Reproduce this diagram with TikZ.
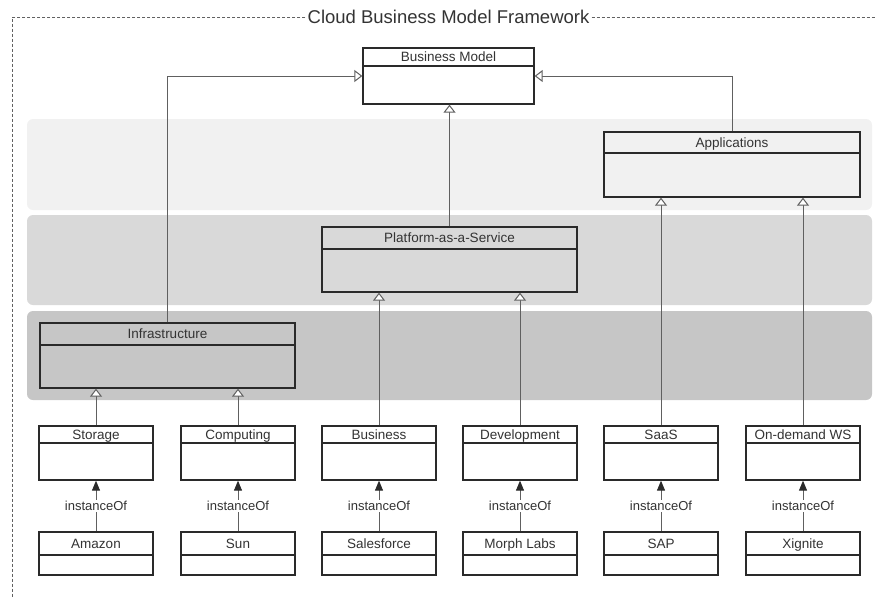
\documentclass[tikz,border=0pt]{standalone}
\usepackage{fontspec}
\setmainfont{Liberation Sans}
\usetikzlibrary{arrows.meta,positioning}
\definecolor{boxline}{HTML}{2A2A2A}
\definecolor{linkgray}{HTML}{606060}
\definecolor{txtgray}{HTML}{333333}
\definecolor{layerapp}{HTML}{F1F1F1}
\definecolor{layerpaas}{HTML}{D9D9D9}
\definecolor{layerinfra}{HTML}{C6C6C6}

\begin{document}
\begin{tikzpicture}[x=1pt, y=-1pt,
  box/.style={draw=boxline, line width=1.3pt, inner sep=0pt, fill=white},
  hdr/.style={draw=boxline, line width=1.3pt, inner sep=0pt, text=txtgray, text height=10pt, text depth=0.7pt, font=\fontsize{13.5}{15}\selectfont},
  gen/.style={draw=linkgray, line width=1pt, -{Triangle[fill=white, length=8pt, width=12pt]}},
  inst/.style={draw=linkgray, line width=1pt, -{Triangle[length=10pt, width=8pt, color=boxline]}},
  lbl/.style={fill=white, inner sep=1pt, text=txtgray, font=\fontsize{13}{15}\selectfont},
  frame/.style={draw=gray!75!black, line width=0.8pt, dash pattern=on 3pt off 2pt}
]
\useasboundingbox (0,0) rectangle (875,597);

% Layers
\fill[layerapp, rounded corners=6pt] (27,119) rectangle (872,210);
\fill[layerpaas, rounded corners=6pt] (27,215) rectangle (872,305);
\fill[layerinfra, rounded corners=6pt] (27,311) rectangle (872,400);

% Frame and title
\node[inner sep=2pt, text=txtgray, font=\fontsize{18.5}{22}\selectfont] (title) at (448.5,17) {Cloud Business Model Framework};
\coordinate (frsw) at (12,620);
\coordinate (frne) at (900,17);
\draw[frame] (title.west) -- (title.west -| frsw) -- (frsw);
\draw[frame] (title.east) -- (frne);

% Business model
\node[box, minimum width=171pt, minimum height=56pt] (bm) at (448.5,76) {};
\node[hdr, minimum width=171pt, minimum height=18pt, below=0pt of bm.north] (bmhd) {Business Model};

% Layer classes
\node[box, fill=layerapp, minimum width=256pt, minimum height=65pt] (apps) at (732,164.5) {};
\node[hdr, minimum width=256pt, minimum height=21pt, below=0pt of apps.north] (appshd) {Applications};
\node[box, fill=layerpaas, minimum width=255pt, minimum height=65pt] (paas) at (449.5,259.5) {};
\node[hdr, minimum width=255pt, minimum height=22pt, below=0pt of paas.north] (paashd) {Platform-as-a-Service};
\node[box, fill=layerinfra, minimum width=255pt, minimum height=65pt] (infra) at (167.5,355.5) {};
\node[hdr, minimum width=255pt, minimum height=22pt, below=0pt of infra.north] (infrahd) {Infrastructure};

% Service classes
\node[box, minimum width=114pt, minimum height=54pt] (storage) at (96,453) {};
\node[hdr, minimum width=114pt, minimum height=17pt, below=0pt of storage.north] (storagehd) {Storage};
\node[box, minimum width=114pt, minimum height=54pt] (computing) at (238,453) {};
\node[hdr, minimum width=114pt, minimum height=17pt, below=0pt of computing.north] (computinghd) {Computing};
\node[box, minimum width=114pt, minimum height=54pt] (business) at (379,453) {};
\node[hdr, minimum width=114pt, minimum height=17pt, below=0pt of business.north] (businesshd) {Business};
\node[box, minimum width=114pt, minimum height=54pt] (development) at (520,453) {};
\node[hdr, minimum width=114pt, minimum height=17pt, below=0pt of development.north] (developmenthd) {Development};
\node[box, minimum width=114pt, minimum height=54pt] (saas) at (661,453) {};
\node[hdr, minimum width=114pt, minimum height=17pt, below=0pt of saas.north] (saashd) {SaaS};
\node[box, minimum width=114pt, minimum height=54pt] (ondemand) at (803,453) {};
\node[hdr, minimum width=114pt, minimum height=17pt, below=0pt of ondemand.north] (ondemandhd) {On-demand WS};

% Instances
\node[box, minimum width=114pt, minimum height=43pt] (amazon) at (96,553.5) {};
\node[hdr, minimum width=114pt, minimum height=23pt, below=0pt of amazon.north] (amazonhd) {Amazon};
\node[box, minimum width=114pt, minimum height=43pt] (sun) at (238,553.5) {};
\node[hdr, minimum width=114pt, minimum height=23pt, below=0pt of sun.north] (sunhd) {Sun};
\node[box, minimum width=114pt, minimum height=43pt] (salesforce) at (379,553.5) {};
\node[hdr, minimum width=114pt, minimum height=23pt, below=0pt of salesforce.north] (salesforcehd) {Salesforce};
\node[box, minimum width=114pt, minimum height=43pt] (morph) at (520,553.5) {};
\node[hdr, minimum width=114pt, minimum height=23pt, below=0pt of morph.north] (morphhd) {Morph Labs};
\node[box, minimum width=114pt, minimum height=43pt] (sap) at (661,553.5) {};
\node[hdr, minimum width=114pt, minimum height=23pt, below=0pt of sap.north] (saphd) {SAP};
\node[box, minimum width=114pt, minimum height=43pt] (xignite) at (803,553.5) {};
\node[hdr, minimum width=114pt, minimum height=23pt, below=0pt of xignite.north] (xignitehd) {Xignite};

% Generalisation links
\draw[gen] (infra.north) |- (bm.west);
\draw[gen] (apps.north) |- (bm.east);
\draw[gen] (paas.north) -- (paas.north |- bm.south);
\draw[gen] (storage.north) -- (storage.north |- infra.south);
\draw[gen] (computing.north) -- (computing.north |- infra.south);
\draw[gen] (business.north) -- (business.north |- paas.south);
\draw[gen] (development.north) -- (development.north |- paas.south);
\draw[gen] (saas.north) -- (saas.north |- apps.south);
\draw[gen] (ondemand.north) -- (ondemand.north |- apps.south);

% instanceOf links
\draw[inst] (amazon) -- node[lbl] {instanceOf} (storage);
\draw[inst] (sun) -- node[lbl] {instanceOf} (computing);
\draw[inst] (salesforce) -- node[lbl] {instanceOf} (business);
\draw[inst] (morph) -- node[lbl] {instanceOf} (development);
\draw[inst] (sap) -- node[lbl] {instanceOf} (saas);
\draw[inst] (xignite) -- node[lbl] {instanceOf} (ondemand);
\end{tikzpicture}
\end{document}
